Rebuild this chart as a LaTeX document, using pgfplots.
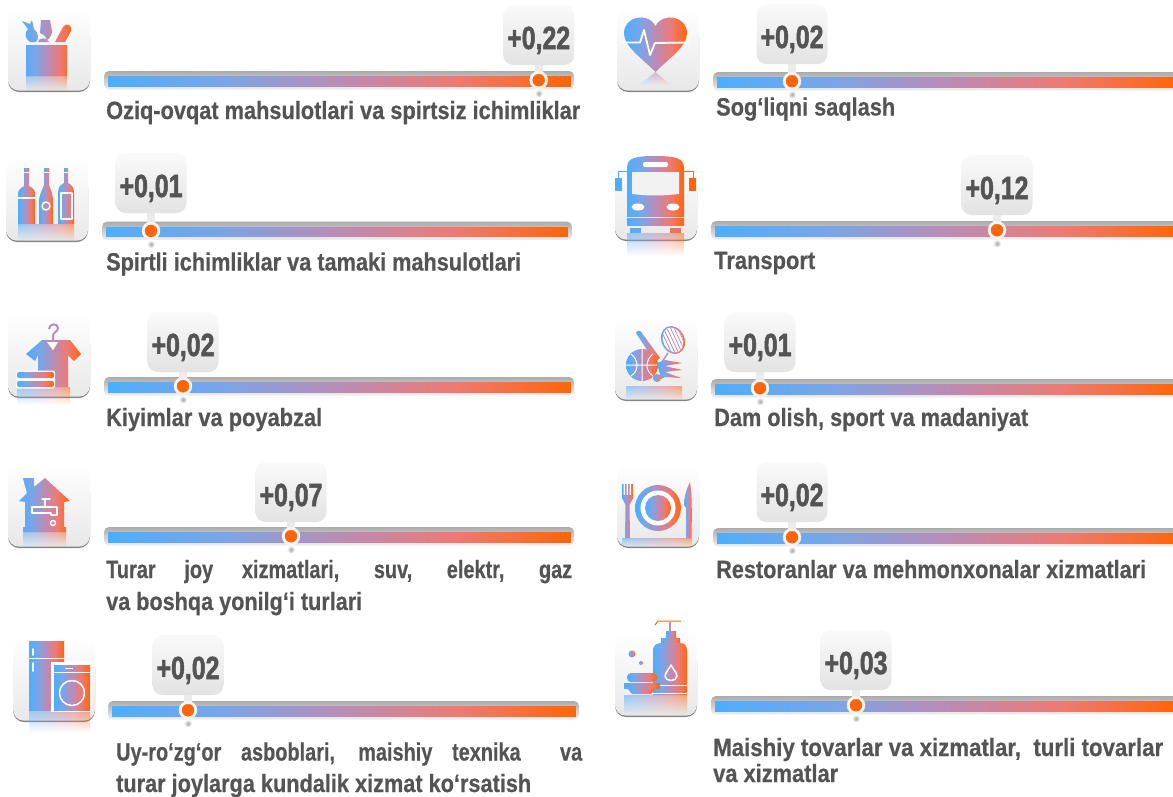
\documentclass[border=0pt]{standalone}
\usepackage{fontspec}
\setmainfont{Liberation Sans}
\usepackage{pgfplots}
\pgfplotsset{compat=1.18}
\usetikzlibrary{fadings}
\definecolor{bl}{RGB}{77,174,252}
\definecolor{ca}{RGB}{122,165,232}
\definecolor{md}{RGB}{186,140,182}
\definecolor{cc}{RGB}{238,122,115}
\definecolor{orr}{RGB}{255,101,8}
\definecolor{txt}{RGB}{84,84,84}
\pgfdeclarehorizontalshading{ico}{100bp}{color(0bp)=(bl); color(25bp)=(bl); color(37.5bp)=(ca); color(50bp)=(md); color(62.5bp)=(cc); color(75bp)=(orr); color(100bp)=(orr)}
\tikzset{grad/.style={shade,shading=ico,draw=none},
 refl/.style={shade,shading=ico,draw=none,path fading=south,opacity=0.55},
 wl/.style={draw=white,line width=1.5pt,fill=none,line cap=round,line join=round}}
% track row: x0, x1, track top, marker x, callout top, value
\newcommand\row[6]{%
 \begin{scope}[shift={(axis cs:#1,#3)},x=1pt,y=-1pt]
  \path[rounded corners=5pt,top color=black!33,bottom color=black!6,draw=none] (0,0) rectangle (#2-#1,18.5);
 \end{scope}
 \pgfmathsetmacro\ixa{#1+4}\pgfmathsetmacro\ixb{#2-4}\pgfmathsetmacro\iya{#3+5}\pgfmathsetmacro\iyb{#3+15}\pgfmathsetmacro\my{#3+9.2}
 \addplot[patch,patch type=rectangle,shader=interp,point meta=explicit] coordinates {(\ixa,\iya) [0] (\ixb,\iya) [1] (\ixb,\iyb) [1] (\ixa,\iyb) [0]};
 \begin{scope}[shift={(axis cs:#4,#5)},x=1pt,y=-1pt]
  \fill[black!8] (-4,58) rectangle (4,#3-#5+4);
  \path[rounded corners=10pt,top color=black!2,bottom color=black!11,draw=none] (-35.5,0) rectangle (35.5,60);
  \node[anchor=base,inner sep=0pt,text=txt] at (0,44) {\resizebox{63pt}{\height}{\fontsize{32}{32}\selectfont\addfontfeature{FakeBold=2}\bfseries #6}};
  \shade[inner color=black!35,outer color=white] (0,#3-#5+22.5) circle (4);
 \end{scope}
 \addplot[only marks,mark=*,mark size=9pt,color=black!4,mark options={fill=black!4,draw=black!4}] coordinates {(#4,\my)};
 \addplot[only marks,mark=*,mark size=6pt,color=orr,mark options={fill=orr,draw=orr}] coordinates {(#4,\my)};
}
\newenvironment{icon}[2]{%
 \begin{scope}[shift={(axis cs:#1,#2)},x=1pt,y=-1pt]
  \fill[rounded corners=11pt,black!48] (0,20) rectangle (82,85);
  \path[rounded corners=11pt,top color=white,bottom color=black!9,draw=none] (0,0) rectangle (82,83.6);
}{\end{scope}}
% one line of label
\newcommand\lab[4]{\node[anchor=base west,inner sep=0pt,text=txt] at (axis cs:#1,#2) {\resizebox{#3pt}{\height}{\fontsize{25}{25}\selectfont\addfontfeature{FakeBold=0.6}\bfseries #4}};}
\begin{document}
\begin{tikzpicture}
\clip (0,0) rectangle (1173pt,796pt);
\begin{axis}[at={(0,0)},anchor=south west,scale only axis,width=1173pt,height=796pt,
 xmin=0,xmax=1173,ymin=0,ymax=796,y dir=reverse,hide axis,clip=false,
 colormap={bar}{rgb255=(77,174,252) rgb255=(122,165,232) rgb255=(186,140,182) rgb255=(238,122,115) rgb255=(255,101,8)},
 point meta min=0,point meta max=1]
\row{104}{574}{71}{538.7}{5}{+0,22}
\row{102}{572}{221.7}{151}{153}{+0,01}
\row{104}{574}{377}{183}{312}{+0,02}
\row{104}{574}{527}{291}{462}{+0,07}
\row{108}{579}{701}{188}{635}{+0,02}
\row{713}{1183}{72}{792}{4}{+0,02}
\row{711}{1181}{221}{997}{155}{+0,12}
\row{711}{1181}{379}{760}{312}{+0,01}
\row{713}{1183}{528}{792}{462}{+0,02}
\row{711}{1181}{696}{856}{630}{+0,03}
% labels
\lab{106}{119}{474}{Oziq-ovqat mahsulotlari va spirtsiz ichimliklar}
\lab{106}{270.5}{415}{Spirtli ichimliklar va tamaki mahsulotlari}
\lab{106}{426}{216}{Kiyimlar va poyabzal}
\node[anchor=base west,inner sep=0pt,text=txt] at (axis cs:106,578) {\resizebox{466pt}{\height}{\makebox[585pt][s]{\fontsize{25}{25}\selectfont\addfontfeature{FakeBold=0.6}\bfseries Turar joy xizmatlari, suv, elektr, gaz}}};
\lab{106}{610}{256}{va boshqa yonilg‘i turlari}
\node[anchor=base west,inner sep=0pt,text=txt] at (axis cs:116,760.5) {\resizebox{466pt}{\height}{\makebox[585pt][s]{\fontsize{25}{25}\selectfont\addfontfeature{FakeBold=0.6}\bfseries Uy-ro‘zg‘or asboblari, maishiy texnika\ \ va}}};
\lab{116}{792}{415}{turar joylarga kundalik xizmat ko‘rsatish}
\lab{716}{115.5}{179}{Sog‘liqni saqlash}
\lab{714}{269}{101}{Transport}
\lab{714}{426}{314}{Dam olish, sport va madaniyat}
\lab{716}{578}{430}{Restoranlar va mehmonxonalar xizmatlari}
\lab{713}{756}{450}{Maishiy tovarlar va xizmatlar,\ \ turli tovarlar}
\lab{713}{782}{125}{va xizmatlar}
% food
\begin{icon}{8}{7}
 \path[refl] (18,69) rectangle (59,84);
 \path[grad] (18,38) rectangle (59,69)
  (14,14) -- (22,17) -- (24,13) -- (26,22) .. controls (31,26) and (31,32) .. (28,35) -- (22,35) .. controls (17,32) and (16,26) .. (20,22) -- cycle
  (33,13) -- (42,13) -- (44,24) .. controls (44,28) and (42,31) .. (39,33) .. controls (37,28) and (35,27) .. (32,26) -- cycle
  (30,35) .. controls (31,30) and (39,30) .. (41,35) -- cycle
  (47,35) -- (55,20) .. controls (58,15) and (65,18) .. (63,24) -- (57,35) -- cycle;
\end{icon}
% bottles
\begin{icon}{6}{157}
 \path[refl] (12,67) rectangle (68,84);
 \path[grad] (18,11) rectangle (23,14);
 \path[grad] (38,11) rectangle (43,14);
 \path[grad] (58,11) rectangle (62,14);
 \path[grad] (18,16) -- (23,16) -- (23,29) .. controls (27,31) and (29,33) .. (29,37) -- (29,67) -- (12,67) -- (12,37) .. controls (12,33) and (15,31) .. (18,29) -- cycle;
 \path[grad] (38,16) -- (43,16) -- (43,28) .. controls (46,35) and (47,40) .. (47,45) -- (47,67) -- (33,67) -- (33,45) .. controls (33,40) and (35,35) .. (38,28) -- cycle;
 \path[grad] (58,16) -- (62,16) -- (62,26) .. controls (66,28) and (68,31) .. (68,36) -- (68,67) -- (52,67) -- (52,36) .. controls (52,31) and (54,28) .. (58,26) -- cycle;
 \draw[wl] (12,41) -- (29,41); \draw[wl] (40,49) circle (4); \draw[wl] (55,36) rectangle (66,62);
\end{icon}
% shirt
\begin{icon}{8}{313}
 \path[refl] (9,74) rectangle (62,92);
 \path[grad] (18,41) -- (34,27) -- (62,27) -- (73,41) -- (66,48) -- (60,42) -- (60,74) -- (30,74) -- (30,42) -- (27,48) -- cycle;
 \fill[white] (39,29) -- (50,29) -- (45,37) -- cycle;
 \draw[md,line width=2pt,fill=none] (41,16) .. controls (41,10) and (50,10) .. (50,15) .. controls (50,19) and (45,19) .. (45,23) -- (45,27);
 \fill[white,rounded corners=2pt] (8,57.5) rectangle (47,75.5);
 \path[grad,rounded corners=2pt] (9,59) rectangle (46,65);
 \path[grad,rounded corners=2pt] (9,68) rectangle (46,74);
\end{icon}
% house
\begin{icon}{8}{463}
 \path[refl] (15,69) rectangle (58,84);
 \path[grad] (15,15) -- (26,15) -- (26,24) -- (37,15) -- (62,38) -- (56,39) -- (56,64) -- (58,64) -- (58,69) -- (15,69) -- (15,64) -- (17,64) -- (17,39) -- (11,38) -- (19,30) -- (17,23) -- cycle;
 \draw[wl] (24,44) -- (49,44) -- (49,52) -- (43,52) -- (43,50) -- (24,50) -- cycle;
 \draw[wl] (34,36) -- (42,36) (37,36) -- (37,43);
 \draw[wl] (45,60) circle (2.5);
\end{icon}
% appliances
\begin{icon}{13}{637}
 \path[refl] (16,73) rectangle (77,96);
 \path[grad] (16,4) rectangle (51,20.5);
 \path[grad] (16,22) rectangle (51,73);
 \draw[wl] (20,12) -- (20,18) (20,26) -- (20,34);
 \fill[white] (38,25) rectangle (79,75);
 \path[grad] (41,28) rectangle (77,34);
 \path[grad] (41,36) rectangle (77,73);
 \draw[wl] (59,56) circle (12.5);
 \draw[white,line width=1pt] (52,31) -- (60,31);
\end{icon}
% heart
\begin{icon}{617}{7}
 \path[refl] (22,78) -- (38.5,65) -- (54,78) -- cycle;
 \path[grad] (38.5,65) .. controls (26,52) and (7,40) .. (7,26) .. controls (7,10) and (30,4) .. (38.5,19) .. controls (47,4) and (70,10) .. (70,26) .. controls (70,40) and (51,52) .. (38.5,65) -- cycle;
 \draw[white,line width=1.8pt,line join=round] (5,35.5) -- (23,35.5) -- (27,23) -- (33,48) -- (38,36) -- (72,35.5);
\end{icon}
% bus
\begin{icon}{615}{156}
 \path[refl] (12,77) rectangle (69,100);
 \draw[bl,line width=1pt] (3,22) -- (3,15) -- (12,15); \draw[orr,line width=1pt] (78,22) -- (78,15) -- (69,15);
 \fill[bl] (0,22) rectangle (7,35); \fill[orr] (74,22) rectangle (81,35);
 \path[grad] (12,12) .. controls (12,2) and (20,0) .. (40,0) .. controls (60,0) and (69,2) .. (69,12) -- (69,61) -- (12,61) -- cycle;
 \path[grad] (12,62) rectangle (69,69);
 \fill[white,rounded corners=2pt] (28,6) rectangle (53,11);
 \fill[white!95!black] (17,16) -- (64,16) -- (64,38) .. controls (45,40) and (35,40) .. (17,38) -- cycle;
 \fill[white] (23,51) ellipse (6.5 and 3.5) (58,51) ellipse (6.5 and 3.5);
 \fill[bl!80!md] (15,72) rectangle (26,77); \fill[orr!50!md] (55,72) rectangle (66,77);
\end{icon}
% sport
\begin{icon}{615}{316}
 \path[refl] (11,70) rectangle (67,84);
 \path[grad] (21,17) .. controls (23,14) and (25,14) .. (27,17) -- (45,42) -- (40,46) -- cycle;
 \path[grad] (27,49) circle (16);
 \draw[white,line width=1pt] (16,38) .. controls (24,44) and (24,55) .. (16,60) (38,38) .. controls (30,44) and (30,55) .. (38,60) (27,33) -- (27,65) (11,49) -- (43,49);
 \begin{scope}[rotate around={25:(58,24)}]
  \path[grad] (58,24) ellipse (11.5 and 14.5);
  \fill[white] (58,24) ellipse (9.8 and 12.8);
  \clip (58,24) ellipse (9.8 and 12.8);
  \draw[md,line width=0.8pt] (49,12) grid[step=3.2] (68,38);
 \end{scope}
 \draw[md,line width=1.5pt] (53,37) -- (47,46);
 \path[grad] (42,47) -- (50,44) -- (67,47) -- (50,50) -- (67,54) -- (50,56) -- (66,62) -- (50,61) -- (46,63) -- cycle;
 \path[grad] (42,62) circle (4);
\end{icon}
% plate
\begin{icon}{617}{463}
 \path[refl] (5,75) rectangle (75,84);
 \path[grad] (41,45) circle (23);
 \fill[white] (41,45) circle (17.5);
 \path[grad] (41,45) circle (13);
 \path[grad] (5,21) -- (6.5,21) -- (6.5,32) -- (8,32) -- (8,21) -- (9.5,21) -- (9.5,32) -- (11,32) -- (11,21) -- (12.5,21) -- (12.5,32) -- (14,32) -- (14,21) -- (16,21) -- (16,35) -- (12.5,42) -- (13,75) -- (8,75) -- (8.5,42) -- (5,35) -- cycle;
 \path[grad] (73,19) .. controls (75,30) and (75,50) .. (74.5,75) -- (69,75) -- (69,45) -- (67,42) .. controls (67,33) and (70,25) .. (73,19) -- cycle;
\end{icon}
% soap
\begin{icon}{615}{632}
 \path[refl] (9,63) rectangle (72,83);
 \path[grad] (38,19) .. controls (38,14) and (41,11) .. (46,11) -- (65,11) .. controls (70,11) and (72,14) .. (72,19) -- (72,63) -- (38,63) -- cycle;
 \path[grad] (46,6) rectangle (65,10);
 \path[grad] (51,-1) rectangle (61,5);
 \draw[md,line width=1.2pt] (55,-10) -- (55,-1);
 \draw[orr,line width=1pt] (40,-7) -- (43,-11) -- (66,-11);
 \draw[wl] (56,33) .. controls (52,40) and (50,41) .. (50,44) .. controls (50,50) and (62,50) .. (62,44) .. controls (62,41) and (60,40) .. (56,33) -- cycle;
 \draw[white,line width=1pt] (38,53) -- (72,53) (38,61) -- (72,61);
 \path[grad,rounded corners=4pt] (12,41) rectangle (42,50);
 \path[grad] (9,51) rectangle (45,56);
 \path[grad] (13,57) -- (40,57) -- (36,62) -- (17,62) -- cycle;
 \path[grad] (17,22) circle (3.5);
 \path[grad] (26,31) circle (2);
\end{icon}
\end{axis}
\end{tikzpicture}
\end{document}
